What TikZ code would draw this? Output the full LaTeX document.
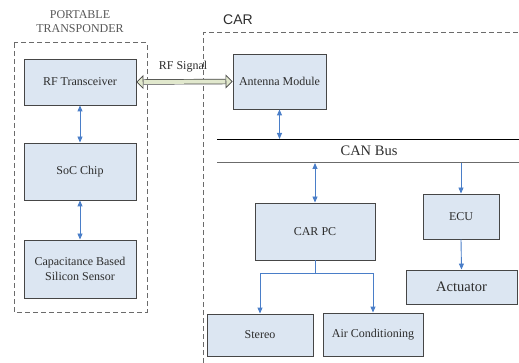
\documentclass[tikz,border=0pt]{standalone}
\usepackage{fontspec}
\setmainfont{Liberation Serif}
\newfontfamily\carfont{Liberation Sans}
\usetikzlibrary{arrows.meta}
\definecolor{boxfill}{RGB}{220,230,242}
\definecolor{boxline}{RGB}{70,70,70}
\definecolor{linkblue}{RGB}{74,126,200}
\definecolor{rfgreen}{RGB}{225,232,205}
\definecolor{txt}{RGB}{45,45,45}
\tikzset{
	blk/.style={draw=boxline, line width=0.9pt, fill=boxfill, text=txt, align=center, inner sep=2pt},
	frame/.style={draw=boxline!80, line width=1pt, dash pattern=on 5pt off 3pt},
	link/.style={linkblue, line width=0.9pt},
	biarrow/.style={link, {Triangle[length=6pt,width=5pt]}-{Triangle[length=6pt,width=5pt]}},
	onearrow/.style={link, -{Triangle[length=6pt,width=5pt]}},
	rfhead/.tip={Triangle[length=7pt, width=14pt, fill=rfgreen, line width=0.7pt]},
	rfarrow/.style={draw=boxline, line width=0.7pt, double=rfgreen, double distance=4pt, {rfhead}-{rfhead}}
}
\begin{document}
\begin{tikzpicture}[x=1pt, y=-1pt, font=\fontsize{12}{15}\selectfont]
			\useasboundingbox (0,0) rectangle (519,363);
			% portable transponder
			\node (ptitle) [text=txt!80, align=center, font=\fontsize{12}{14}\selectfont] at (80,22) {PORTABLE\\TRANSPONDER};
			\draw [frame] (14,43) rectangle (147,312);
			\node (rf) [blk, minimum width=112pt, minimum height=46pt] at (80,82) {RF Transceiver};
			\node (soc) [blk, minimum width=112pt, minimum height=57pt] at (80,171.5) {SoC Chip};
			\node (sensor) [blk, minimum width=112pt, minimum height=58pt] at (80,269) {Capacitance Based\\Silicon Sensor};
			\draw [biarrow] (rf.south) -- (soc.north);
			\draw [biarrow] (soc.south) -- (sensor.north);
			% car
			\node (cartitle) [text=txt, font=\carfont\fontsize{14}{16}\selectfont] at (238,20) {CAR};
			\draw [frame] (203,363) -- (203,33) -- (519,33);
			\node (ant) [blk, minimum width=93pt, minimum height=55pt] at (279.5,81.5) {Antenna Module};
			\draw [rfarrow] (rf.east) -- (ant.west);
			\node (rfsig) [text=txt] at (183,67) {RF Signal};
			% can bus
			\coordinate (bustopL) at (217,139);
			\coordinate (bustopR) at (519,139);
			\coordinate (busbotL) at (217,163);
			\coordinate (busbotR) at (519,163);
			\draw [line width=0.9pt] (bustopL) -- (bustopR);
			\draw [line width=1pt, boxline!80] (busbotL) -- (busbotR);
			\node (canbus) [text=txt, font=\fontsize{14.5}{16}\selectfont] at (369,151) {CAN Bus};
			\draw [biarrow] (ant.south) -- (ant.south |- bustopL);
			\node (carpc) [blk, minimum width=120pt, minimum height=57pt] at (315,231.5) {CAR PC};
			\node (ecu) [blk, minimum width=76pt, minimum height=45pt] at (461,216.5) {ECU};
			\node (act) [blk, minimum width=111pt, minimum height=34pt, font=\fontsize{14.5}{16}\selectfont] at (461.5,287) {Actuator};
			\node (stereo) [blk, minimum width=106pt, minimum height=42pt] at (260,335) {Stereo};
			\node (aircon) [blk, minimum width=100pt, minimum height=43pt] at (373,334.5) {Air Conditioning};
			\draw [biarrow] (carpc.north |- busbotL) -- (carpc.north);
			\draw [onearrow] (ecu.north |- busbotL) -- (ecu.north);
			\draw [onearrow] (ecu.south) -- (act.north);
			\draw [onearrow] (carpc.south) -- ++(0,13) -| (stereo.north);
			\draw [onearrow] (carpc.south) -- ++(0,13) -| (aircon.north);
		\end{tikzpicture}
\end{document}
